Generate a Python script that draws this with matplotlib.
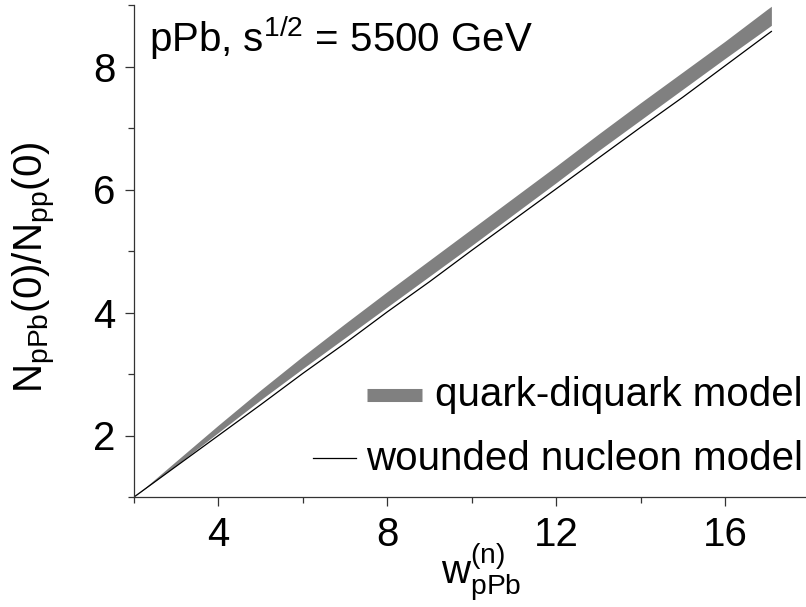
import matplotlib
matplotlib.use("Agg")
import matplotlib.pyplot as plt
from matplotlib.lines import Line2D

plt.rcParams['font.family'] = ['Liberation Sans', 'DejaVu Sans']
plt.rcParams['mathtext.fontset'] = 'custom'
plt.rcParams['mathtext.rm'] = 'Liberation Sans'
plt.rcParams['mathtext.it'] = 'Liberation Sans'
plt.rcParams['mathtext.bf'] = 'Liberation Sans:bold'

# w_pPb^(n) grid
w = [2, 3, 4, 5, 6, 7, 8, 9, 10, 11, 12, 13, 14, 15, 16, 17, 17.1]
# quark-diquark model band (lower / upper edge)
qd_low = [1.00, 1.515, 2.05, 2.58, 3.09, 3.59, 4.09, 4.59, 5.09, 5.60,
          6.11, 6.63, 7.13, 7.63, 8.13, 8.62, 8.67]
qd_high = [1.00, 1.585, 2.17, 2.74, 3.29, 3.82, 4.34, 4.85, 5.36, 5.87,
           6.38, 6.90, 7.41, 7.91, 8.41, 8.93, 8.98]
# wounded nucleon model
wn = [1.00, 1.50, 2.00, 2.50, 3.01, 3.50, 4.01, 4.50, 5.01, 5.51,
      6.01, 6.51, 7.01, 7.50, 8.01, 8.52, 8.57]

W, H = 806, 607
FS = 29
fig = plt.figure(figsize=(W / 100, H / 100), dpi=100)
ax = fig.add_axes([134 / W, 1 - 497 / H, 672 / W, 492 / H])

ax.fill_between(w, qd_low, qd_high, color='#808080', lw=0)
ax.plot(w, wn, color='black', lw=0.9)

ax.set_xlim(2, 17.92)
ax.set_ylim(1, 9)
ax.set_xticks([4, 8, 12, 16])
ax.set_xticks([2, 6, 10, 14], minor=True)
ax.set_yticks([2, 4, 6, 8])
ax.set_yticks([1, 3, 5, 7, 9], minor=True)

for s in ['top', 'right']:
    ax.spines[s].set_visible(False)
for s in ['left', 'bottom']:
    ax.spines[s].set_linewidth(0.9)
    ax.spines[s].set_color('#333333')

ax.tick_params(which='major', length=6.5, width=0.9, color='#333333',
               labelsize=FS, pad=7)
ax.tick_params(which='minor', length=4, width=0.9, color='#333333')

fig.text(35 / W, 1 - 267 / H, r'$\mathrm{N_{pPb}(0)/N_{pp}(0)}$',
         rotation=90, ha='center', va='center', fontsize=FS)
fig.text(481 / W, 1 - 572 / H, r'$\mathrm{w_{pPb}^{(n)}}$',
         ha='center', va='center', fontsize=FS)

fig.text(149 / W, 1 - 52 / H, r'pPb, s$^{\mathrm{1/2}}$ = 5500 GeV',
         ha='left', va='baseline', fontsize=FS)

# legend
fig.add_artist(Line2D([367 / W, 422 / W], [1 - 394.5 / H, 1 - 394.5 / H],
                      color='#808080', lw=9.4, solid_capstyle='butt'))
fig.add_artist(Line2D([313 / W, 356 / W], [1 - 458 / H, 1 - 458 / H],
                      color='black', lw=0.9))
fig.text(803 / W, 1 - 406 / H, 'quark-diquark model', ha='right',
         va='baseline', fontsize=FS)
fig.text(803 / W, 1 - 470 / H, 'wounded nucleon model', ha='right',
         va='baseline', fontsize=FS)

fig.savefig('out.png', dpi=100)
